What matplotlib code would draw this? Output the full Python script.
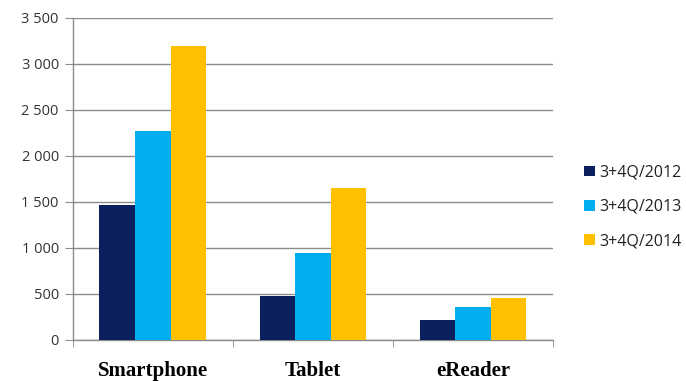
import matplotlib
matplotlib.use("Agg")
import matplotlib.pyplot as plt
import numpy as np
from matplotlib.ticker import FuncFormatter, FixedLocator

categories = ["Smartphone", "Tablet", "eReader"]
series_names = ["3+4Q/2012", "3+4Q/2013", "3+4Q/2014"]
v2012 = [1465, 478, 215]
v2013 = [2270, 945, 358]
v2014 = [3190, 1652, 456]
colors = ["#0b1f5e", "#00aeef", "#ffc000"]

fig = plt.figure(figsize=(6.86, 3.81), dpi=100)
ax = fig.add_axes([0.106, 0.108, 0.700, 0.845])

x = np.arange(len(categories))
w = 0.222
for i, (vals, name, c) in enumerate(zip([v2012, v2013, v2014], series_names, colors)):
    ax.bar(x + (i - 1) * w, vals, w, color=c, label=name, zorder=3)

ax.set_xlim(-0.5, 2.5)
ax.set_ylim(0, 3500)
ax.set_yticks(np.arange(0, 3501, 500))
ax.yaxis.set_major_formatter(FuncFormatter(lambda v, p: f"{int(v):,}".replace(",", " ")))
ax.grid(axis="y", color="#8c8c8c", linewidth=1.0, zorder=0)
ax.set_xticks(x)
ax.set_xticklabels(categories, fontfamily="Liberation Serif", fontweight="bold", fontsize=15)
ax.xaxis.set_minor_locator(FixedLocator([-0.5, 0.5, 1.5, 2.5]))
ax.tick_params(axis="x", which="major", length=0, pad=15)
ax.tick_params(axis="x", which="minor", length=5, color="#8c8c8c", direction="out")
ax.tick_params(axis="y", length=6, color="#8c8c8c", pad=4)
for lab in ax.get_yticklabels():
    lab.set_color("#333333")
    lab.set_fontfamily("Open Sans")
    lab.set_fontsize(10.5)
for s in ["top", "right"]:
    ax.spines[s].set_visible(False)
for s in ["left", "bottom"]:
    ax.spines[s].set_color("#8c8c8c")
    ax.spines[s].set_linewidth(1.0)

leg = ax.legend(loc="center left", bbox_to_anchor=(1.052, 0.413), frameon=False,
                prop={"family": "Open Sans", "size": 11.5},
                handlelength=0.65, handleheight=0.65, handletextpad=0.3,
                labelspacing=1.15, borderaxespad=0.0)
for t in leg.get_texts():
    t.set_color("#222222")

fig.savefig("out.png", dpi=100, facecolor="white")
